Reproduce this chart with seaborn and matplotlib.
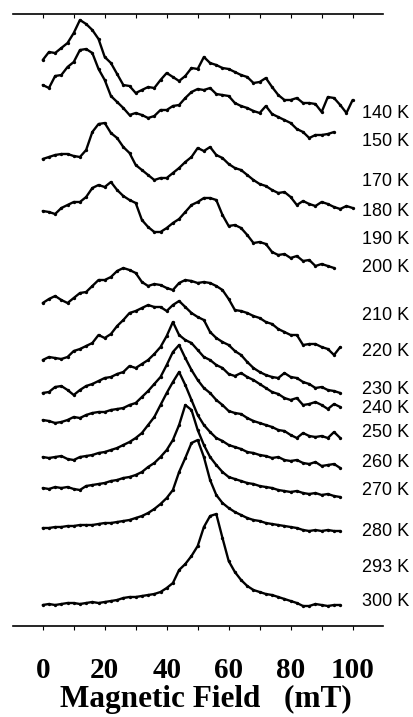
import numpy as np
import pandas as pd
import matplotlib
matplotlib.use("Agg")
import matplotlib.pyplot as plt
import seaborn as sns

# ESR spectra (arbitrary intensity units) recorded every 2 mT from 0 mT,
# stacked with a vertical offset per temperature.
spec_140 = [0, 8, 7, 12, 17, 27, 40, 36, 30, 21, 3, -3, -14, -25, -26, -33, -30, -27, -28, -20,
            -13, -17, -21, -16, -8, -9, 3, -3, -5, -8, -9, -12, -15, -17, -23, -22, -18, -27, -35,
            -40, -40, -38, -43, -43, -44, -52, -37, -38, -45, -53, -40]
spec_150 = [0, -3, 9, 10, 18, 23, 35, 36, 32, 16, 5, -11, -17, -23, -30, -28, -30, -33, -31, -25,
            -25, -21, -20, -13, -7, -4, -5, -3, -9, -10, -11, -18, -21, -23, -26, -28, -21, -29, -32,
            -35, -38, -44, -47, -53, -50, -50, -49, -47]
spec_180 = [0, 2, 4, 5, 5, 3, 2, 9, 27, 35, 36, 26, 21, 12, 6, -6, -11, -16, -21, -19, -19, -14, -9,
            -3, 2, 11, 8, 12, 4, 1, -5, -9, -11, -16, -21, -25, -27, -31, -34, -33, -38, -46, -42,
            -45, -47, -43, -45, -48, -50, -47, -49]
spec_200 = [0, -1, -3, 3, 6, 9, 9, 14, 23, 26, 24, 29, 21, 15, 11, 8, -9, -16, -21, -21, -17, -12,
            -8, -1, 6, 9, 13, 13, 11, -4, -15, -14, -17, -24, -32, -31, -33, -41, -44, -43, -47, -45,
            -50, -49, -55, -53, -55, -57]
spec_220 = [0, 4, 7, 3, 0, 5, 10, 11, 17, 23, 23, 26, 32, 35, 33, 30, 21, 17, 19, 18, 15, 13, 20,
            23, 22, 20, 21, 20, 17, 13, 4, -7, -8, -10, -13, -15, -19, -21, -26, -29, -32, -32, -42,
            -41, -41, -44, -46, -52, -44]
spec_230 = [0, 3, 2, 1, 3, 9, 11, 14, 17, 25, 22, 26, 34, 40, 47, 49, 52, 55, 53, 53, 49, 55, 59,
            53, 47, 43, 40, 28, 22, 18, 15, 9, 5, -2, -8, -12, -15, -17, -18, -13, -17, -18, -22,
            -24, -28, -27, -30, -31, -33]
spec_240 = [0, 1, 6, 7, 3, -2, 3, 7, 9, 12, 15, 16, 19, 21, 27, 25, 29, 33, 39, 46, 57, 71, 58, 53,
            50, 43, 36, 33, 28, 25, 19, 17, 20, 16, 13, 9, 5, 1, -1, -5, -7, -5, -12, -11, -9, -12,
            -16, -11, -14]
spec_250 = [0, -1, -3, -2, 0, 3, 2, 5, 7, 8, 8, 10, 11, 12, 15, 17, 23, 29, 36, 43, 55, 68, 75, 62,
            50, 40, 32, 27, 20, 15, 9, 7, 6, 2, -1, -3, -5, -7, -10, -11, -15, -18, -13, -16, -17,
            -16, -18, -12, -18]
spec_260 = [0, -1, 0, 1, -2, -3, 0, 1, 2, 4, 5, 7, 9, 12, 15, 19, 24, 32, 40, 52, 64, 75, 85, 72,
            57, 42, 32, 25, 19, 16, 12, 10, 8, 5, 4, 2, 1, -1, 0, -3, -4, -3, -6, -7, -5, -9, -8,
            -7, -11]
spec_270 = [0, -1, 1, 0, 1, -1, -2, 2, 3, 4, 5, 7, 8, 10, 11, 13, 16, 21, 25, 31, 38, 48, 63, 83,
            78, 58, 43, 31, 23, 16, 11, 9, 7, 5, 4, 2, 1, 0, -2, -3, -4, -3, -5, -6, -5, -7, -6,
            -8, -9]
spec_280 = [-1, -1, 0, 0, 1, 1, 2, 2, 2, 3, 4, 4, 5, 6, 7, 9, 11, 14, 18, 23, 29, 37, 55, 69, 84,
            87, 70, 47, 32, 24, 19, 15, 12, 9, 7, 6, 4, 3, 2, 1, 0, -1, -3, -4, -3, -4, -3, -4, -4]
spec_300 = [0, 1, 0, 1, 2, 2, 1, 2, 3, 2, 3, 4, 5, 7, 8, 8, 9, 10, 11, 13, 17, 22, 35, 41, 49, 59,
            78, 89, 91, 67, 44, 33, 25, 19, 15, 13, 11, 10, 8, 6, 4, 2, -1, -1, 1, 0, -1, 0, 0]

spectra = [spec_140, spec_150, spec_180, spec_200, spec_220, spec_230,
           spec_240, spec_250, spec_260, spec_270, spec_280, spec_300]
spectrum_names = ["140 K", "150 K", "180 K", "200 K", "220 K", "230 K",
                  "240 K", "250 K", "260 K", "270 K", "280 K", "300 K"]
offsets = [566, 541, 467, 415, 323, 266, 233, 206, 169, 138, 99, 21]

# temperature labels down the right-hand side
temp_labels = ["140 K", "150 K", "170 K", "180 K", "190 K", "200 K", "210 K", "220 K",
               "230 K", "240 K", "250 K", "260 K", "270 K", "280 K", "293 K", "300 K"]
temp_label_pos = [513, 484, 444, 414, 386, 358, 310, 274, 236, 217, 193, 163, 135, 95, 59, 25]

field_step = 2.0
tick_values = [0, 20, 40, 60, 80, 100]

rows = []
for name, spec, off in zip(spectrum_names, spectra, offsets):
    for i, v in enumerate(spec):
        rows.append({"field": i * field_step, "signal": off + v, "T": name})
df = pd.DataFrame(rows)

sns.set_style("white")
plt.rcParams["font.family"] = ["Liberation Sans", "DejaVu Sans"]
plt.rcParams["text.color"] = "black"
plt.rcParams["axes.labelcolor"] = "black"

fig = plt.figure(figsize=(4.14, 7.17), dpi=100)
ax = fig.add_axes([13 / 414, 1 - 626 / 717, 370 / 414, 612 / 717])

sns.lineplot(data=df, x="field", y="signal", hue="T", units="T", estimator=None,
             palette=["black"] * len(spectra), legend=False, ax=ax,
             linewidth=1.7, marker="o", markersize=2.4, markeredgewidth=0)

for lab, pos in zip(temp_labels, temp_label_pos):
    ax.text(103, pos, lab, fontsize=13, va="center", ha="left", color="black")

ax.set_xlim(-9.6, 109.8)
ax.set_ylim(0, 612)
ax.set_yticks([])
ax.set_ylabel("")
for side in ("left", "right"):
    ax.spines[side].set_visible(False)
for side in ("top", "bottom"):
    ax.spines[side].set_linewidth(1.2)
    ax.spines[side].set_color("black")

ax.set_xticks(tick_values)
ax.set_xticks(np.arange(0, 101, 10), minor=True)
ax.set_xticklabels([str(t) for t in tick_values], fontfamily="Liberation Serif",
                   fontweight="bold", fontsize=21, color="black")
ax.tick_params(axis="x", which="both", direction="out", length=3, width=0.8,
               bottom=True, top=False, pad=19, colors="black")
ax.set_xlabel("Magnetic Field   (mT)", fontfamily="Liberation Serif", fontweight="bold",
              fontsize=22.5, color="black")
ax.xaxis.set_label_coords(0.52, -0.097)

top = ax.secondary_xaxis("top")
top.set_xticks(tick_values)
top.set_xticks(np.arange(0, 101, 10), minor=True)
top.tick_params(axis="x", which="both", direction="in", length=3, width=0.8,
                labeltop=False, colors="black")
top.spines["top"].set_visible(False)

fig.savefig("out.png", dpi=100, facecolor="white")
